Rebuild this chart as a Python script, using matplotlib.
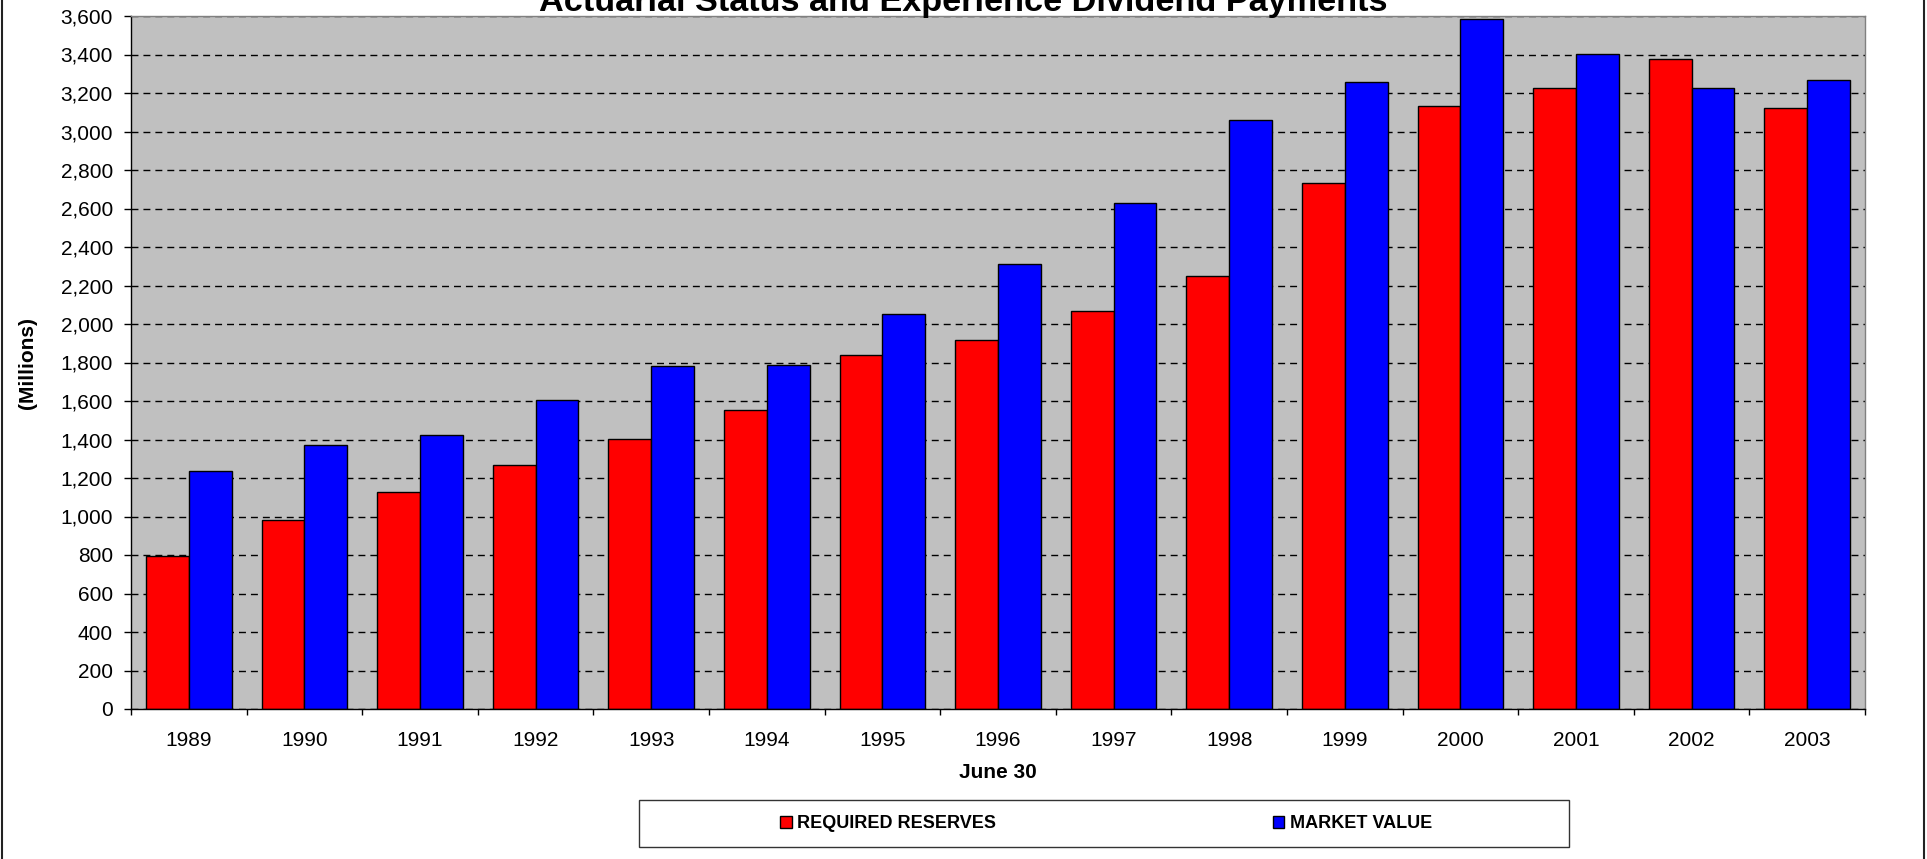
import matplotlib
matplotlib.use('Agg')
import matplotlib.pyplot as plt
import numpy as np
from matplotlib.patches import Rectangle
from matplotlib.lines import Line2D
from matplotlib.ticker import FuncFormatter

plt.rcParams['font.family'] = ['Liberation Sans', 'DejaVu Sans']

years = ['1989', '1990', '1991', '1992', '1993', '1994', '1995', '1996',
         '1997', '1998', '1999', '2000', '2001', '2002', '2003']
required_reserves = [795, 984, 1127, 1268, 1405, 1551, 1840, 1918,
                     2070, 2249, 2734, 3134, 3225, 3375, 3124]
market_value = [1238, 1372, 1424, 1607, 1783, 1785, 2051, 2312,
                2631, 3060, 3258, 3583, 3402, 3224, 3269]
series_names = ['REQUIRED RESERVES', 'MARKET VALUE']
colores = ['#FF0000', '#0000FF']

W, H = 1927, 859
fig = plt.figure(figsize=(W / 100, H / 100), dpi=100)
ax = fig.add_axes([131 / W, 150 / H, 1734 / W, 693 / H])
ax.set_facecolor('#C0C0C0')

x = np.arange(len(years))
w = 0.37
b1 = ax.bar(x - w / 2, required_reserves, w, color=colores[0], edgecolor='black',
            linewidth=1, label=series_names[0])
b2 = ax.bar(x + w / 2, market_value, w, color=colores[1], edgecolor='black',
            linewidth=1, label=series_names[1])

ax.set_xlim(-0.5, len(years) - 0.5)
ax.set_ylim(0, 3600)
ax.set_yticks(range(0, 3601, 200))
ax.yaxis.set_major_formatter(FuncFormatter(lambda v, p: '{:,.0f}'.format(v)))
ax.set_xticks(x, years)
ax.set_xticks(np.arange(-0.5, len(years), 1), minor=True)

ax.tick_params(axis='x', which='major', length=0, pad=15.5, labelsize=15)
ax.tick_params(axis='x', which='minor', length=4.5, width=1, direction='out')
ax.tick_params(axis='y', length=5, width=1, pad=8, labelsize=15)

ax.set_axisbelow(True)
ax.grid(axis='y', color='black', linestyle=(0, (5, 3.6)), linewidth=1)

for s in ['left', 'bottom']:
    ax.spines[s].set_color('black')
    ax.spines[s].set_linewidth(1)
for s in ['top', 'right']:
    ax.spines[s].set_color('#808080')
    ax.spines[s].set_linewidth(1)

# titles and labels
fig.text(0.5, (H - 10.5) / H, 'Actuarial Status and Experience Dividend Payments',
         ha='center', va='baseline', fontsize=24.7, fontweight='bold')
fig.text(998 / W, (H - 772) / H, 'June 30', ha='center', va='center',
         fontsize=15, fontweight='bold')
fig.text(27 / W, (H - 363) / H, '(Millions)', ha='center', va='center',
         rotation=90, fontsize=15, fontweight='bold')

# legend with its own box
fig.patches.append(Rectangle((639 / W, 12 / H), 930 / W, 47 / H, transform=fig.transFigure,
                             fill=False, edgecolor='#333333', linewidth=1))
fig.legend(handles=[b1, b2], loc='center', bbox_to_anchor=(1106 / W, 35 / H), ncol=2,
           frameon=False, prop={'weight': 'bold', 'size': 13}, handlelength=0.66,
           handleheight=0.66, handletextpad=0.3, columnspacing=15.3,
           borderpad=0, borderaxespad=0)

# chart border (left and right edges)
fig.lines.append(Line2D([1.5 / W, 1.5 / W], [0, 1], transform=fig.transFigure,
                        color='#222222', linewidth=1.5))
fig.lines.append(Line2D([1924 / W, 1924 / W], [0, 1], transform=fig.transFigure,
                        color='#222222', linewidth=1.5))

fig.savefig('out.png', dpi=100)
